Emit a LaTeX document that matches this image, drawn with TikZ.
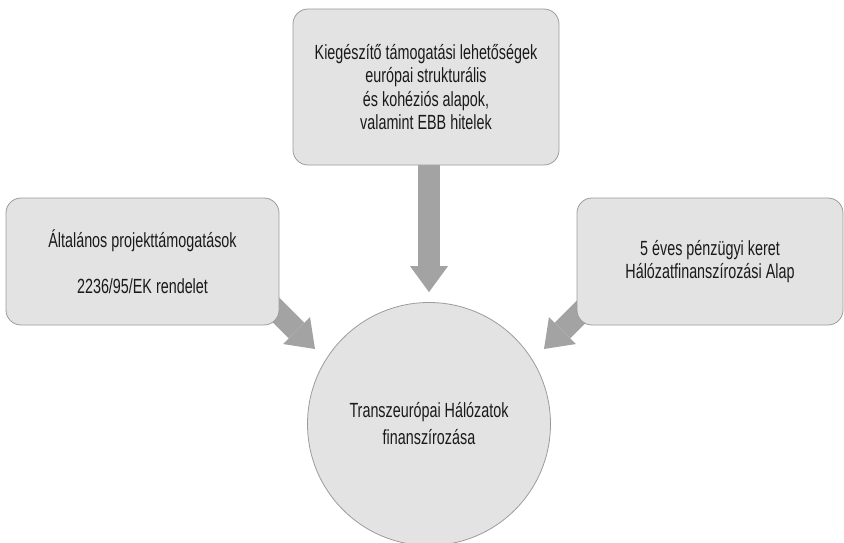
\documentclass[tikz,border=0pt]{standalone}
\usepackage{fontspec}
\setmainfont{Liberation Sans}[FakeStretch=0.7]
\usepackage{xcolor}
\usepackage{tikz}
\usetikzlibrary{
    positioning,
    arrows.meta,
    backgrounds
}

\definecolor{boxfill}{HTML}{E3E3E3}
\definecolor{boxline}{HTML}{9C9C9C}
\definecolor{arrowgray}{HTML}{A3A3A3}
\definecolor{textdark}{HTML}{1A1A1A}

\begin{document}
\begin{tikzpicture}[
    x=1pt, y=-1pt,
    source/.style={
        rectangle,
        rounded corners=15pt,
        draw=boxline,
        fill=boxfill,
        line width=0.8pt,
        align=center,
        text=textdark,
        font=\fontsize{20.5}{23.5}\selectfont
    },
    hub/.style={
        circle,
        draw=boxline,
        fill=boxfill,
        line width=0.8pt,
        align=center,
        text=textdark,
        minimum size=243pt,
        font=\fontsize{20.5}{27}\selectfont
    },
    bigarrow/.style={
        draw=arrowgray,
        line width=22pt,
        -{Triangle[length=26pt, width=38pt, line width=0pt]}
    }
]

\useasboundingbox (0,0) rectangle (844,543);

% ============================================================
% FINANCING (CENTRE)
% ============================================================

\node[hub] (financing) at (429,424)
{
Transzeurópai Hálózatok\\
finanszírozása
};

% ============================================================
% SOURCES
% ============================================================

\node[source, minimum width=266pt, minimum height=156pt] (cohesion) at (426,87)
{
Kiegészítő támogatási lehetőségek\\
európai strukturális\\
és kohéziós alapok,\\
valamint EBB hitelek
};

\node[source, minimum width=273pt, minimum height=127pt] (projects) at (142.5,261.5)
{
Általános projekttámogatások\\[22.5pt]
2236/95/EK rendelet
};

\node[source, minimum width=266pt, minimum height=127pt] (framework) at (710,261.5)
{
5 éves pénzügyi keret\\
Hálózatfinanszírozási Alap
};

% ============================================================
% CONNECTIONS
% ============================================================

\coordinate (projfoot) at (255,289);
\coordinate (projtip) at (315,349);
\coordinate (framefoot) at (604,289);
\coordinate (frametip) at (544,349);

\begin{pgfonlayer}{background}
\draw[bigarrow, shorten >=10pt] (cohesion.south -| financing.north) -- (financing.north);
\draw[bigarrow] (projfoot) -- (projtip);
\draw[bigarrow] (framefoot) -- (frametip);
\end{pgfonlayer}

\end{tikzpicture}
\end{document}
